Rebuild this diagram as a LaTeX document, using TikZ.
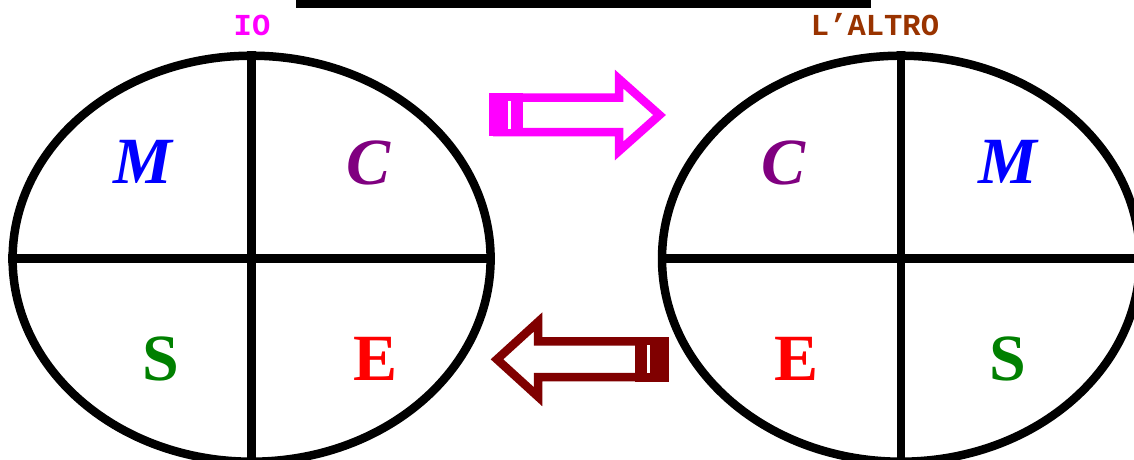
\documentclass[tikz,border=0pt]{standalone}
\usepackage{fontspec}
\setmainfont{Liberation Serif}
\newfontfamily\labelfont{Liberation Mono}
\usetikzlibrary{shapes.geometric}
\definecolor{ioMag}{RGB}{255,0,255}
\definecolor{altroBrown}{RGB}{153,51,0}
\definecolor{darkArrow}{RGB}{128,0,0}
\definecolor{letM}{RGB}{0,0,255}
\definecolor{letC}{RGB}{128,0,128}
\definecolor{letS}{RGB}{0,128,0}
\definecolor{letE}{RGB}{255,0,0}
\tikzset{
  oval/.style={draw=black, line width=8.5pt, ellipse, minimum width=478pt, minimum height=406pt, inner sep=0pt},
  divider/.style={draw=black, line width=8.5pt},
  bigit/.style={font=\fontsize{66}{66}\selectfont\bfseries\itshape, inner sep=0pt, anchor=center},
  bigup/.style={font=\fontsize{66}{66}\selectfont\bfseries, inner sep=0pt, anchor=center},
  tag/.style={font=\fontsize{30.5}{30.5}\selectfont\labelfont\bfseries, inner sep=0pt, anchor=center},
  blockarrow/.style={line width=8.5pt, miter limit=10, line join=miter}
}
\begin{document}
\begin{tikzpicture}[x=1pt,y=-1pt]
\useasboundingbox (0,0) rectangle (1134,459);
% top bar
\fill[black] (296,0) rectangle (871,7.5);
% ellipses
\node[oval] (L) at (251.6,258.7) {};
\node[oval] (R) at (901,258.7) {};
\draw[divider] (L.west) -- (L.east);
\draw[divider] (L.north) -- (L.south);
\draw[divider] (R.west) -- (R.east);
\draw[divider] (R.north) -- (R.south);
% labels
\node[tag, text=ioMag] (io) at (252,25) {IO};
\node[tag, text=altroBrown] (altro) at (875,25) {L’ALTRO};
% letters left
\node[bigit, text=letM] (LM) at (143,162) {M};
\node[bigit, text=letC] (LC) at (369,163) {C};
\node[bigup, text=letS] (LS) at (161,358.5) {S};
\node[bigup, text=letE] (LE) at (376,358.5) {E};
% letters right
\node[bigit, text=letC] (RC) at (783,163) {C};
\node[bigit, text=letM] (RM) at (1008,162) {M};
\node[bigup, text=letE] (RE) at (796,358.5) {E};
\node[bigup, text=letS] (RS) at (1008,358.5) {S};
% right-pointing arrow (magenta)
\draw[blockarrow, ioMag] (493,97.5) -- (619,97.5) -- (619,79) -- (659.5,115) -- (619,151) -- (619,132) -- (493,132);
\fill[ioMag] (489,93) rectangle (523,136);
\fill[white] (508,101) rectangle (511,129);
% left-pointing arrow (dark red)
\draw[blockarrow, darkArrow] (665,341.3) -- (538,341.3) -- (538,322) -- (497,359.3) -- (538,396.6) -- (538,377.2) -- (665,377.2);
\fill[darkArrow] (635,336.7) rectangle (669,381.7);
\fill[white] (646.7,345) rectangle (650,372.7);
\end{tikzpicture}
\end{document}
